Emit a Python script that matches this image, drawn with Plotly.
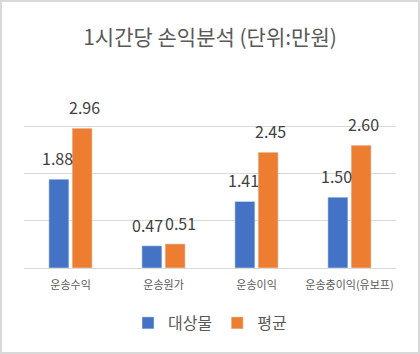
import plotly.graph_objects as go

categories = ["운송수익", "운송원가", "운송이익", "운송충이익(유보프)"]
target_vals = [1.88, 0.47, 1.41, 1.50]
avg_vals = [2.96, 0.51, 2.45, 2.60]
series_names = ["대상물", "평균"]

W, H = 420, 354
L, R, T, B = 24, 24, 79, 86
pw, ph = W - L - R, H - T - B
FONT = "Noto Sans CJK KR, Noto Sans, sans-serif"
LABEL_FONT = dict(size=16, color="#404040", family=FONT)

fig = go.Figure()
fig.add_trace(go.Bar(x=categories, y=target_vals, name=series_names[0],
                     marker_color="#4472C4"))
fig.add_trace(go.Bar(x=categories, y=avg_vals, name=series_names[1],
                     marker_color="#ED7D31"))

annotations = []
for cat, a, b in zip(categories, target_vals, avg_vals):
    # spread the two labels a little when they sit at nearly the same height
    sh = 16.5 if abs(a - b) < 0.3 else 13.5
    annotations.append(dict(x=cat, y=a, text=f"{a:.2f}", showarrow=False,
                            xshift=-sh, yshift=7, yanchor="bottom",
                            font=LABEL_FONT))
    annotations.append(dict(x=cat, y=b, text=f"{b:.2f}", showarrow=False,
                            xshift=sh, yshift=7, yanchor="bottom",
                            font=LABEL_FONT))

def px_x(p):
    return (p - L) / pw

def px_y(p):
    return (H - B - p) / ph

fig.update_layout(
    width=W, height=H,
    margin=dict(l=L, r=R, t=T, b=B),
    paper_bgcolor="white", plot_bgcolor="white",
    barmode="group", bargap=0.5, bargroupgap=0.14,
    font=dict(family=FONT, color="#595959"),
    title=dict(text="1시간당 손익분석 (단위:만원)", x=0.5, xanchor="center",
               y=1 - 38 / H, yanchor="middle",
               font=dict(size=21, color="#595959", family=FONT)),
    xaxis=dict(showgrid=False, showline=False, ticks="",
               tickfont=dict(size=11, color="#595959", family=FONT),
               ticklabelstandoff=9),
    yaxis=dict(range=[0, 4], dtick=1, showticklabels=False,
               gridcolor="#d9d9d9", gridwidth=1,
               zeroline=True, zerolinecolor="#d9d9d9", zerolinewidth=1),
    legend=dict(orientation="h", x=0.5, xanchor="center",
                y=px_y(323), yanchor="middle",
                font=dict(size=16, color="#595959", family=FONT),
                itemwidth=30),
    showlegend=True,
    annotations=annotations,
    shapes=[dict(type="rect", xref="paper", yref="paper",
                 x0=px_x(1), x1=px_x(W - 1), y0=px_y(H - 1), y1=px_y(1),
                 line=dict(color="#d9d9d9", width=2), fillcolor="rgba(0,0,0,0)",
                 layer="below")],
)

fig.write_html("out.html")
